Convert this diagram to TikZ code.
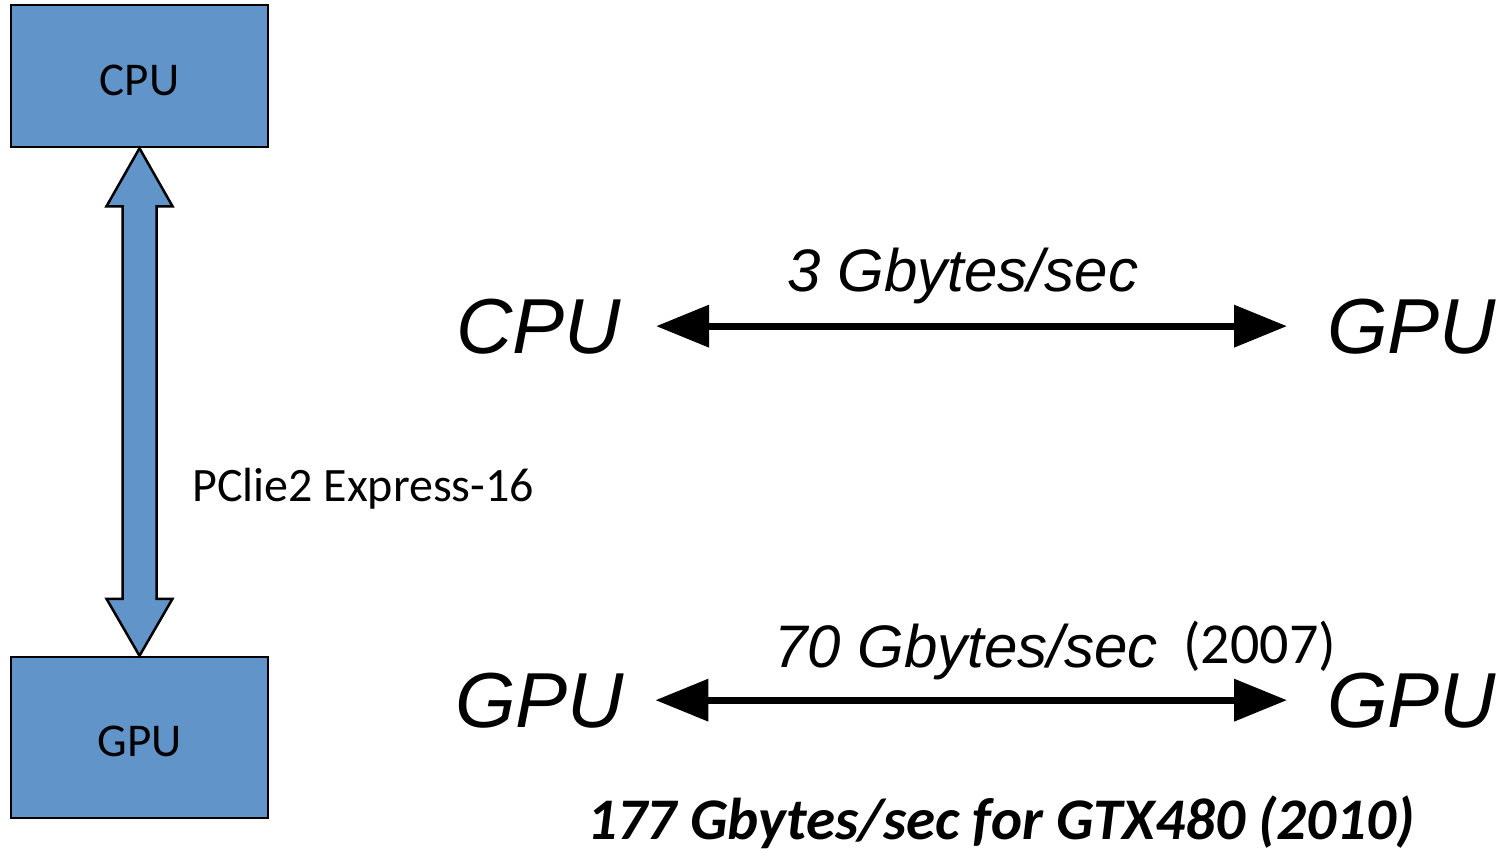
\documentclass[tikz,border=0pt]{standalone}
\usepackage{fontspec}
\setmainfont{Carlito}
\newfontfamily\helv{Liberation Sans}
\usetikzlibrary{arrows.meta,calc}
\definecolor{boxblue}{RGB}{97,149,202}
\tikzset{
  hwbox/.style={draw=black, fill=boxblue, line width=2.5pt, rectangle, inner sep=0pt,
    minimum width=257pt, text height=38pt, text depth=0pt,
    font=\fontsize{47}{56}\selectfont},
  bigname/.style={inner sep=0pt, font=\helv\itshape\fontsize{78}{94}\selectfont},
  ratelabel/.style={inner sep=0pt, anchor=base, font=\helv\itshape\fontsize{60}{72}\selectfont},
  plain/.style={inner sep=0pt, font=\fontsize{48}{58}\selectfont},
  link/.style={line width=7pt, {Triangle[length=53pt,width=41pt]}-{Triangle[length=53pt,width=41pt]}},
  blockarrow/.style={draw=black, fill=boxblue, line width=2.5pt, line join=miter}
}
\begin{document}
\begin{tikzpicture}[x=1pt,y=-1pt]
\useasboundingbox (0,0) rectangle (1506,852);

% left: the two boxes joined by the bus
\node[hwbox, minimum height=142pt] (cpu) at (139.5,76) {CPU};
\node[hwbox, minimum height=161pt] (gpu) at (139.5,737.5) {GPU};
\draw[blockarrow] (cpu.south) -- ++(33,58) -- ++(-16,0)
  -- ($(gpu.north)+(17,-57)$) -- ++(16,0) -- (gpu.north) -- ++(-33,-57) -- ++(16,0)
  -- ($(cpu.south)+(-17,58)$) -- ++(-16,0) -- cycle;
\node[plain, anchor=base west] (bus) at (192,501) {PClie2 Express-16};

% right: transfer rates
\node[bigname, anchor=base west] (c1) at (456,353) {CPU};
\node[bigname, anchor=base west] (g1) at (1327,353) {GPU};
\draw[link, shorten <=35pt, shorten >=40pt] (c1.east) -- (g1.west);
\node[ratelabel] (r1) at (963,291) {3 Gbytes/sec};

\node[bigname, anchor=base west] (g2) at (455,727) {GPU};
\node[bigname, anchor=base west] (g3) at (1327,727) {GPU};
\draw[link, shorten <=31pt, shorten >=40pt] (g2.east) -- (g3.west);
\node[ratelabel] (r2) at (966,667) {70 Gbytes/sec};
\node[inner sep=0pt, anchor=base west, font=\fontsize{58}{70}\selectfont] (y1) at (1183,663) {(2007)};

\node[inner sep=0pt, anchor=base, font=\bfseries\itshape\fontsize{59}{71}\selectfont] (fermi) at (1001,839) {177 Gbytes/sec for GTX480 (2010)};
\end{tikzpicture}
\end{document}
